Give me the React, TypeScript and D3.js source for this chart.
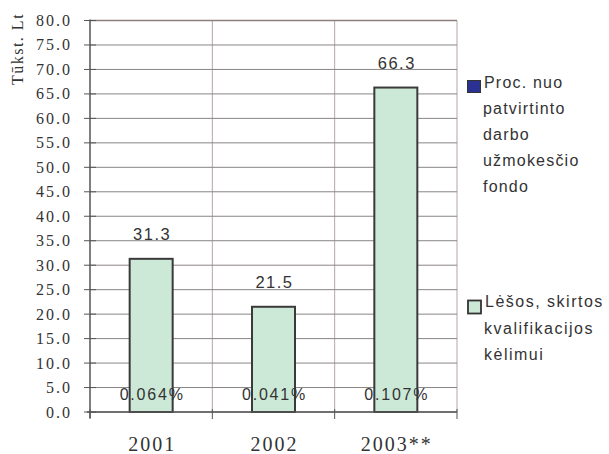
import React from "react";
import * as d3 from "d3";

const categories = ["2001", "2002", "2003**"];
const values = [31.3, 21.5, 66.3];
const percents = ["0.064%", "0.041%", "0.107%"];
const yTicks = [0, 5, 10, 15, 20, 25, 30, 35, 40, 45, 50, 55, 60, 65, 70, 75, 80];
const legend1 = ["Proc. nuo", "patvirtinto", "darbo", "užmokesčio", "fondo"];
const legend2 = ["Lėšos, skirtos", "kvalifikacijos", "kėlimui"];

export default function App() {
  const W = 609, H = 454;
  const left = 90, right = 457, top = 20.5, bottom = 412;
  const x = d3.scaleBand<string>().domain(categories).range([left, right]).paddingInner(0).paddingOuter(0);
  const y = d3.scaleLinear().domain([0, 80]).range([bottom, top]);
  const barW = 43;
  const serif = "'Liberation Serif', 'Times New Roman', serif";
  const sans = "'Liberation Sans', Arial, sans-serif";
  return (
    <svg width={W} height={H} style={{ position: "absolute", left: 0, top: 0 }}>
      <rect x={0} y={0} width={W} height={H} fill="#fff" />
      {/* vertical grid */}
      {categories.map((c, i) => (
        <line key={"vg" + i} x1={x(c)! + x.bandwidth()} x2={x(c)! + x.bandwidth()} y1={top} y2={bottom} stroke="#b3a6a6" strokeWidth={1} />
      ))}
      {/* horizontal grid */}
      {yTicks.map((t) => (
        <line key={"hg" + t} x1={left} x2={right} y1={y(t)} y2={y(t)} stroke={t === 80 ? "#8f8080" : "#8a8585"} strokeWidth={t === 80 ? 1.5 : 1} />
      ))}
      {/* y ticks */}
      {yTicks.map((t) => (
        <g key={"yt" + t}>
          <line x1={84} x2={96} y1={y(t)} y2={y(t)} stroke="#555" strokeWidth={1} />
          <text x={72} y={y(t) + 5.5} textAnchor="end" fontFamily={serif} fontSize={16} fill="#333" letterSpacing={2}>
            {t.toFixed(1)}
          </text>
        </g>
      ))}
      {/* x ticks */}
      {[left, ...categories.map((c) => x(c)! + x.bandwidth())].map((px, i) => (
        <line key={"xt" + i} x1={px} x2={px} y1={409} y2={419} stroke="#555" strokeWidth={1} />
      ))}
      {/* bars */}
      {categories.map((c, i) => {
        const cx = x(c)! + x.bandwidth() / 2;
        return (
          <g key={"b" + i}>
            <rect x={cx - barW / 2} y={y(values[i])} width={barW} height={bottom - y(values[i])} fill="#cce8d6" stroke="#3a3a3a" strokeWidth={2} />
            <text x={cx + 1} y={y(values[i]) - 18.5} textAnchor="middle" fontFamily={sans} fontSize={16.5} fill="#333" letterSpacing={1.5}>
              {values[i].toFixed(1)}
            </text>
            <text x={cx + 1} y={400} textAnchor="middle" fontFamily={sans} fontSize={16} fill="#333" letterSpacing={1.8}>
              {percents[i]}
            </text>
            <text x={cx + 1} y={450.5} textAnchor="middle" fontFamily={serif} fontSize={20} fill="#333" letterSpacing={2}>
              {c}
            </text>
          </g>
        );
      })}
      {/* axes */}
      <line x1={left} x2={left} y1={top - 1} y2={bottom + 6} stroke="#555" strokeWidth={1.5} />
      <line x1={left - 3} x2={right} y1={bottom} y2={bottom} stroke="#555" strokeWidth={1.5} />
      {/* y title */}
      <text transform={`translate(23,49) rotate(-90)`} textAnchor="middle" fontFamily={serif} fontSize={16} fill="#333" letterSpacing={1.5}>
        Tūkst. Lt
      </text>
      {/* legend */}
      <rect x={467.5} y={80.5} width={13} height={12} fill="#2b3190" stroke="#333" strokeWidth={1} />
      {legend1.map((l, i) => (
        <text key={"l1" + i} x={i === 0 ? 484 : 483} y={88 + i * 26} fontFamily={sans} fontSize={16} fill="#333" letterSpacing={1.2}>
          {l}
        </text>
      ))}
      <rect x={468} y={300.5} width={13} height={13} fill="#cce8d6" stroke="#333" strokeWidth={1.8} />
      {legend2.map((l, i) => (
        <text key={"l2" + i} x={i === 0 ? 485 : 484} y={307 + i * 26.5} fontFamily={sans} fontSize={16} fill="#333" letterSpacing={1.5}>
          {l}
        </text>
      ))}
    </svg>
  );
}
